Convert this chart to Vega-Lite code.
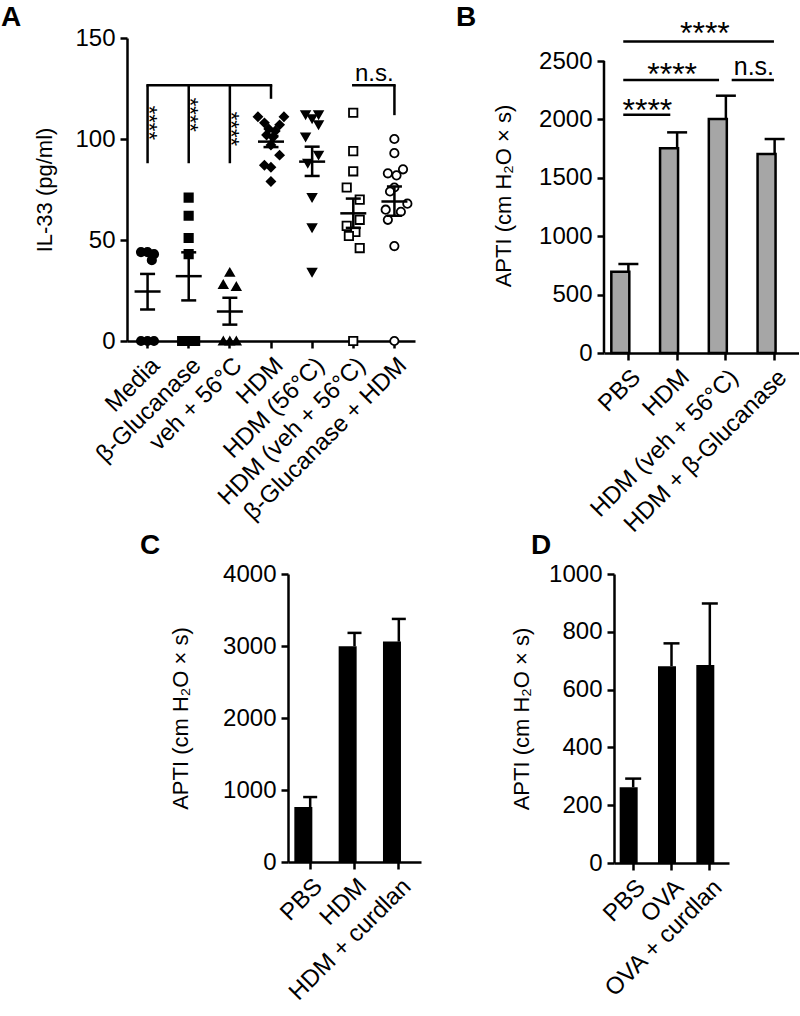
{
  "$schema": "https://vega.github.io/schema/vega-lite/v6.json",
  "background": "white",
  "padding": {"left": 1, "top": 3, "right": 0, "bottom": 0},
  "config": {
    "view": {"stroke": null},
    "font": "Liberation Sans",
    "axis": {"domainColor": "black", "domainWidth": 2.5, "tickColor": "black", "tickWidth": 2.5, "tickSize": 7, "labelColor": "black", "labelFont": "Liberation Sans", "labelFontSize": 24, "labelPadding": 5, "labelLimit": 0, "titleColor": "black", "titleFont": "Liberation Sans", "titleFontSize": 22, "titleFontWeight": "normal", "titlePadding": 10, "grid": false, "labelOverlap": false},
    "axisX": {"labelAngle": -45, "labelFontSize": 24},
    "title": {"font": "Liberation Sans", "fontSize": 28, "fontWeight": "bold", "anchor": "start", "frame": "group", "color": "black", "offset": 0}
  },
  "datasets": {
    "ptsA": [
      {"g": "Media", "v": 44, "rep": 4}, {"g": "Media", "v": 44, "rep": 7}, {"g": "Media", "v": 43, "rep": 10}, {"g": "Media", "v": 40, "rep": 9}, {"g": "Media", "v": 0, "rep": 4}, {"g": "Media", "v": 0, "rep": 7}, {"g": "Media", "v": 0, "rep": 10},
      {"g": "β-Glucanase", "v": 71, "rep": 7}, {"g": "β-Glucanase", "v": 62, "rep": 7}, {"g": "β-Glucanase", "v": 51, "rep": 7}, {"g": "β-Glucanase", "v": 43, "rep": 7}, {"g": "β-Glucanase", "v": 0, "rep": 4}, {"g": "β-Glucanase", "v": 0, "rep": 7}, {"g": "β-Glucanase", "v": 0, "rep": 10},
      {"g": "veh + 56°C", "v": 34, "rep": 7}, {"g": "veh + 56°C", "v": 28, "rep": 4}, {"g": "veh + 56°C", "v": 27, "rep": 10}, {"g": "veh + 56°C", "v": 0, "rep": 4}, {"g": "veh + 56°C", "v": 0, "rep": 7}, {"g": "veh + 56°C", "v": 0, "rep": 10},
      {"g": "HDM", "v": 111, "rep": 1}, {"g": "HDM", "v": 111, "rep": 13}, {"g": "HDM", "v": 108, "rep": 4}, {"g": "HDM", "v": 107, "rep": 11}, {"g": "HDM", "v": 105, "rep": 6}, {"g": "HDM", "v": 104, "rep": 9}, {"g": "HDM", "v": 102, "rep": 5}, {"g": "HDM", "v": 101, "rep": 8}, {"g": "HDM", "v": 97, "rep": 7}, {"g": "HDM", "v": 92, "rep": 11}, {"g": "HDM", "v": 87, "rep": 4}, {"g": "HDM", "v": 86, "rep": 7}, {"g": "HDM", "v": 79, "rep": 7},
      {"g": "HDM (56°C)", "v": 112, "rep": 4}, {"g": "HDM (56°C)", "v": 112, "rep": 10}, {"g": "HDM (56°C)", "v": 110, "rep": 7}, {"g": "HDM (56°C)", "v": 107, "rep": 10}, {"g": "HDM (56°C)", "v": 101, "rep": 4}, {"g": "HDM (56°C)", "v": 92, "rep": 10}, {"g": "HDM (56°C)", "v": 88, "rep": 5}, {"g": "HDM (56°C)", "v": 71, "rep": 7}, {"g": "HDM (56°C)", "v": 56, "rep": 7}, {"g": "HDM (56°C)", "v": 34, "rep": 7},
      {"g": "HDM (veh + 56°C)", "v": 113, "rep": 7}, {"g": "HDM (veh + 56°C)", "v": 94, "rep": 7}, {"g": "HDM (veh + 56°C)", "v": 84, "rep": 7}, {"g": "HDM (veh + 56°C)", "v": 76, "rep": 4}, {"g": "HDM (veh + 56°C)", "v": 70, "rep": 10}, {"g": "HDM (veh + 56°C)", "v": 60, "rep": 10}, {"g": "HDM (veh + 56°C)", "v": 57, "rep": 4}, {"g": "HDM (veh + 56°C)", "v": 54, "rep": 8}, {"g": "HDM (veh + 56°C)", "v": 52, "rep": 5}, {"g": "HDM (veh + 56°C)", "v": 46, "rep": 10}, {"g": "HDM (veh + 56°C)", "v": 0, "rep": 7},
      {"g": "β-Glucanase + HDM", "v": 100, "rep": 7}, {"g": "β-Glucanase + HDM", "v": 93, "rep": 7}, {"g": "β-Glucanase + HDM", "v": 85, "rep": 11}, {"g": "β-Glucanase + HDM", "v": 83, "rep": 4}, {"g": "β-Glucanase + HDM", "v": 82, "rep": 8}, {"g": "β-Glucanase + HDM", "v": 76, "rep": 7}, {"g": "β-Glucanase + HDM", "v": 74, "rep": 5}, {"g": "β-Glucanase + HDM", "v": 68, "rep": 13}, {"g": "β-Glucanase + HDM", "v": 65, "rep": 3}, {"g": "β-Glucanase + HDM", "v": 64, "rep": 10}, {"g": "β-Glucanase + HDM", "v": 60, "rep": 4}, {"g": "β-Glucanase + HDM", "v": 47, "rep": 7}, {"g": "β-Glucanase + HDM", "v": 0, "rep": 7}
    ],
    "sumA": [
      {"g": "Media", "m": 24.5, "lo": 15.6, "hi": 33.2},
      {"g": "β-Glucanase", "m": 32.1, "lo": 20.1, "hi": 43.9},
      {"g": "veh + 56°C", "m": 14.6, "lo": 8.1, "hi": 21.4},
      {"g": "HDM", "m": 98.7, "lo": 96, "hi": 101.5},
      {"g": "HDM (56°C)", "m": 88.8, "lo": 81.7, "hi": 96.2},
      {"g": "HDM (veh + 56°C)", "m": 63.2, "lo": 56, "hi": 70.5},
      {"g": "β-Glucanase + HDM", "m": 69, "lo": 62, "hi": 76.5}
    ],
    "vlinesA": [
      {"g": "Media", "v1": 88, "v2": 126.6}, {"g": "β-Glucanase", "v1": 88, "v2": 126.6}, {"g": "veh + 56°C", "v1": 88, "v2": 126.6}, {"g": "HDM", "v1": 119.9, "v2": 126.6}, {"g": "β-Glucanase + HDM", "v1": 111.8, "v2": 126.6}
    ],
    "hlinesA": [
      {"g": "Media", "g2": "HDM", "v": 126.6}, {"g": "HDM (veh + 56°C)", "g2": "β-Glucanase + HDM", "v": 126.6}
    ],
    "starsA": [
      {"g": "Media", "v": 108}, {"g": "β-Glucanase", "v": 112}, {"g": "veh + 56°C", "v": 105}
    ],
    "barsB": [
      {"g": "PBS", "v": 696, "e": 762}, {"g": "HDM", "v": 1752, "e": 1889}, {"g": "HDM (veh + 56°C)", "v": 2003, "e": 2203}, {"g": "HDM + β-Glucanase", "v": 1704, "e": 1832}
    ],
    "barsC": [
      {"g": "PBS", "v": 763, "e": 902}, {"g": "HDM", "v": 2997, "e": 3182}, {"g": "HDM + curdlan", "v": 3061, "e": 3376}
    ],
    "barsD": [
      {"g": "PBS", "v": 262, "e": 292}, {"g": "OVA", "v": 681, "e": 760}, {"g": "OVA + curdlan", "v": 685, "e": 898}
    ]
  },
  "spacing": -5,
  "vconcat": [
    {
      "spacing": 40,
      "hconcat": [
        {
          "title": {"text": "A", "dx": -126, "offset": -6},
          "width": 288, "height": 303,
          "encoding": {
            "x": {"field": "g", "type": "nominal", "title": null, "sort": ["Media", "β-Glucanase", "veh + 56°C", "HDM", "HDM (56°C)", "HDM (veh + 56°C)", "β-Glucanase + HDM"], "scale": {"type": "band", "domain": ["Media", "β-Glucanase", "veh + 56°C", "HDM", "HDM (56°C)", "HDM (veh + 56°C)", "β-Glucanase + HDM"], "paddingInner": 0, "paddingOuter": 0}}
          },
          "layer": [
            {
              "data": {"name": "ptsA"},
              "mark": {"type": "point", "opacity": 1, "stroke": "black", "strokeWidth": 1.8, "size": 70},
              "encoding": {
                "xOffset": {"field": "rep", "type": "quantitative", "scale": {"domain": [1, 13], "range": [7.5, 33.5]}},
                "y": {"field": "v", "type": "quantitative", "title": "IL-33 (pg/ml)", "scale": {"domain": [0, 150], "nice": false}, "axis": {"values": [0, 50, 100, 150], "format": "d", "titlePadding": 18}},
                "shape": {"field": "g", "type": "nominal", "legend": null, "scale": {"domain": ["Media", "β-Glucanase", "veh + 56°C", "HDM", "HDM (56°C)", "HDM (veh + 56°C)", "β-Glucanase + HDM"], "range": ["circle", "square", "triangle-up", "diamond", "triangle-down", "square", "circle"]}},
                "fill": {"field": "g", "type": "nominal", "legend": null, "scale": {"domain": ["Media", "β-Glucanase", "veh + 56°C", "HDM", "HDM (56°C)", "HDM (veh + 56°C)", "β-Glucanase + HDM"], "range": ["black", "black", "black", "black", "black", "white", "white"]}}
              }
            },
            {
              "data": {"name": "sumA"},
              "mark": {"type": "rule", "color": "black", "strokeWidth": 2.5},
              "encoding": {"y": {"field": "lo", "type": "quantitative", "title": "IL-33 (pg/ml)"}, "y2": {"field": "hi"}}
            },
            {
              "data": {"name": "sumA"},
              "mark": {"type": "tick", "color": "black", "thickness": 2.5, "size": 26, "opacity": 1},
              "encoding": {"y": {"field": "m", "type": "quantitative", "title": "IL-33 (pg/ml)"}}
            },
            {
              "data": {"name": "sumA"},
              "mark": {"type": "tick", "color": "black", "thickness": 2.5, "size": 15, "opacity": 1},
              "encoding": {"y": {"field": "lo", "type": "quantitative", "title": "IL-33 (pg/ml)"}}
            },
            {
              "data": {"name": "sumA"},
              "mark": {"type": "tick", "color": "black", "thickness": 2.5, "size": 15, "opacity": 1},
              "encoding": {"y": {"field": "hi", "type": "quantitative", "title": "IL-33 (pg/ml)"}}
            },
            {
              "data": {"name": "vlinesA"},
              "mark": {"type": "rule", "color": "black", "strokeWidth": 2.5},
              "encoding": {"y": {"field": "v1", "type": "quantitative", "title": "IL-33 (pg/ml)"}, "y2": {"field": "v2"}}
            },
            {
              "data": {"name": "hlinesA"},
              "mark": {"type": "rule", "color": "black", "strokeWidth": 2.5, "strokeCap": "square"},
              "encoding": {"x2": {"field": "g2"}, "y": {"field": "v", "type": "quantitative", "title": "IL-33 (pg/ml)"}}
            },
            {
              "data": {"name": "starsA"},
              "mark": {"type": "text", "text": "****", "angle": 90, "fontSize": 22, "align": "center", "baseline": "middle", "dy": -1, "fill": "black", "opacity": 1},
              "encoding": {"y": {"field": "v", "type": "quantitative", "title": "IL-33 (pg/ml)"}}
            },
            {
              "data": {"values": [{"g": "HDM (veh + 56°C)", "v": 132}]},
              "mark": {"type": "text", "text": "n.s.", "fontSize": 24, "align": "center", "baseline": "middle", "dx": 21, "fill": "black"},
              "encoding": {"y": {"field": "v", "type": "quantitative", "title": "IL-33 (pg/ml)"}}
            }
          ]
        },
        {
          "title": {"text": "B", "dx": -148, "offset": -14},
          "width": 195, "height": 315,
          "encoding": {
            "x": {"field": "g", "type": "nominal", "title": null, "sort": ["PBS", "HDM", "HDM (veh + 56°C)", "HDM + β-Glucanase"], "scale": {"type": "band", "domain": ["PBS", "HDM", "HDM (veh + 56°C)", "HDM + β-Glucanase"], "paddingInner": 0.3, "paddingOuter": 0.15}}
          },
          "layer": [
            {
              "data": {"name": "barsB"},
              "mark": {"type": "bar", "fill": "#a6a6a6", "stroke": "black", "strokeWidth": 2.5},
              "encoding": {"y": {"field": "v", "type": "quantitative", "title": "APTI (cm H₂O × s)", "scale": {"domain": [0, 2697], "nice": false}, "axis": {"values": [0, 500, 1000, 1500, 2000, 2500], "format": "d", "titlePadding": 23, "domain": false}}}
            },
            {
              "data": {"values": [{"g": "PBS", "v": 0, "v2": 2500}]},
              "mark": {"type": "rule", "color": "black", "strokeWidth": 2.5},
              "encoding": {"x": {"field": "g", "type": "nominal", "bandPosition": -0.2143}, "y": {"field": "v", "type": "quantitative", "title": "APTI (cm H₂O × s)"}, "y2": {"field": "v2"}}
            },
            {
              "data": {"name": "barsB"},
              "mark": {"type": "rule", "color": "black", "strokeWidth": 2.5},
              "encoding": {"y": {"field": "v", "type": "quantitative", "title": "APTI (cm H₂O × s)"}, "y2": {"field": "e"}}
            },
            {
              "data": {"name": "barsB"},
              "mark": {"type": "tick", "color": "black", "thickness": 2.5, "size": 20, "opacity": 1},
              "encoding": {"y": {"field": "e", "type": "quantitative", "title": "APTI (cm H₂O × s)"}}
            },
            {
              "data": {"values": [{"g": "PBS", "g2": "HDM", "v": 2040}, {"g": "PBS", "g2": "HDM (veh + 56°C)", "v": 2337}]},
              "mark": {"type": "rule", "color": "black", "strokeWidth": 2.5},
              "encoding": {"x": {"field": "g", "type": "nominal", "bandPosition": 0.35}, "x2": {"field": "g2", "bandPosition": 0.3}, "y": {"field": "v", "type": "quantitative", "title": "APTI (cm H₂O × s)"}}
            },
            {
              "data": {"values": [{"g": "PBS", "g2": "HDM + β-Glucanase", "v": 2668}]},
              "mark": {"type": "rule", "color": "black", "strokeWidth": 2.5},
              "encoding": {"x": {"field": "g", "type": "nominal", "bandPosition": 0.35}, "x2": {"field": "g2", "bandPosition": 0.48}, "y": {"field": "v", "type": "quantitative", "title": "APTI (cm H₂O × s)"}}
            },
            {
              "data": {"values": [{"g": "HDM (veh + 56°C)", "g2": "HDM + β-Glucanase", "v": 2337}]},
              "mark": {"type": "rule", "color": "black", "strokeWidth": 2.5},
              "encoding": {"x": {"field": "g", "type": "nominal", "bandPosition": 0.67}, "x2": {"field": "g2", "bandPosition": 0.48}, "y": {"field": "v", "type": "quantitative", "title": "APTI (cm H₂O × s)"}}
            },
            {
              "data": {"values": [{"g": "PBS", "v": 2076}]},
              "mark": {"type": "text", "text": "****", "fontSize": 32, "align": "center", "baseline": "middle", "dx": 19, "fill": "black"},
              "encoding": {"y": {"field": "v", "type": "quantitative", "title": "APTI (cm H₂O × s)"}}
            },
            {
              "data": {"values": [{"g": "HDM", "v": 2384}]},
              "mark": {"type": "text", "text": "****", "fontSize": 32, "align": "center", "baseline": "middle", "dx": -5, "fill": "black"},
              "encoding": {"y": {"field": "v", "type": "quantitative", "title": "APTI (cm H₂O × s)"}}
            },
            {
              "data": {"values": [{"g": "HDM (veh + 56°C)", "v": 2732}]},
              "mark": {"type": "text", "text": "****", "fontSize": 32, "align": "center", "baseline": "middle", "dx": -21, "fill": "black"},
              "encoding": {"y": {"field": "v", "type": "quantitative", "title": "APTI (cm H₂O × s)"}}
            },
            {
              "data": {"values": [{"g": "HDM (veh + 56°C)", "v": 2446}]},
              "mark": {"type": "text", "text": "n.s.", "fontSize": 25, "align": "center", "baseline": "middle", "dx": 28, "fill": "black"},
              "encoding": {"y": {"field": "v", "type": "quantitative", "title": "APTI (cm H₂O × s)"}}
            }
          ]
        }
      ]
    },
    {
      "spacing": 12,
      "hconcat": [
        {
          "width": 1, "height": 10,
          "view": {"fill": "white", "stroke": null},
          "data": {"values": [{}]},
          "mark": {"type": "text", "text": ""},
          "encoding": {}
        },
        {
          "spacing": 89,
          "hconcat": [
            {
              "title": {"text": "C", "dx": -148, "offset": 2},
              "width": 133, "height": 288,
              "data": {"name": "barsC"},
              "encoding": {
                "x": {"field": "g", "type": "nominal", "title": null, "sort": ["PBS", "HDM", "HDM + curdlan"], "scale": {"type": "band", "domain": ["PBS", "HDM", "HDM + curdlan"], "paddingInner": 0.285, "paddingOuter": 0.143}}
              },
              "layer": [
                {
                  "mark": {"type": "rule", "color": "black", "strokeWidth": 2.5},
                  "encoding": {"y": {"field": "v", "type": "quantitative", "title": "APTI (cm H₂O × s)", "scale": {"domain": [0, 4000], "nice": false}, "axis": {"values": [0, 1000, 2000, 3000, 4000], "format": "d", "titlePadding": 30}}, "y2": {"field": "e"}}
                },
                {
                  "mark": {"type": "tick", "color": "black", "thickness": 2.5, "size": 14, "opacity": 1},
                  "encoding": {"y": {"field": "e", "type": "quantitative", "title": "APTI (cm H₂O × s)"}}
                },
                {
                  "mark": {"type": "bar", "fill": "black"},
                  "encoding": {"y": {"field": "v", "type": "quantitative", "title": "APTI (cm H₂O × s)"}}
                }
              ]
            },
            {
              "title": {"text": "D", "dx": -83, "offset": 2},
              "width": 115, "height": 289,
              "data": {"name": "barsD"},
              "encoding": {
                "x": {"field": "g", "type": "nominal", "title": null, "sort": ["PBS", "OVA", "OVA + curdlan"], "scale": {"type": "band", "domain": ["PBS", "OVA", "OVA + curdlan"], "paddingInner": 0.295, "paddingOuter": 0.148}}
              },
              "layer": [
                {
                  "mark": {"type": "rule", "color": "black", "strokeWidth": 2.5},
                  "encoding": {"y": {"field": "v", "type": "quantitative", "title": "APTI (cm H₂O × s)", "scale": {"domain": [0, 1000], "nice": false}, "axis": {"values": [0, 200, 400, 600, 800, 1000], "format": "d", "titlePadding": 15}}, "y2": {"field": "e"}}
                },
                {
                  "mark": {"type": "tick", "color": "black", "thickness": 2.5, "size": 16, "opacity": 1},
                  "encoding": {"y": {"field": "e", "type": "quantitative", "title": "APTI (cm H₂O × s)"}}
                },
                {
                  "mark": {"type": "bar", "fill": "black"},
                  "encoding": {"y": {"field": "v", "type": "quantitative", "title": "APTI (cm H₂O × s)"}}
                }
              ]
            }
          ]
        }
      ]
    }
  ]
}
